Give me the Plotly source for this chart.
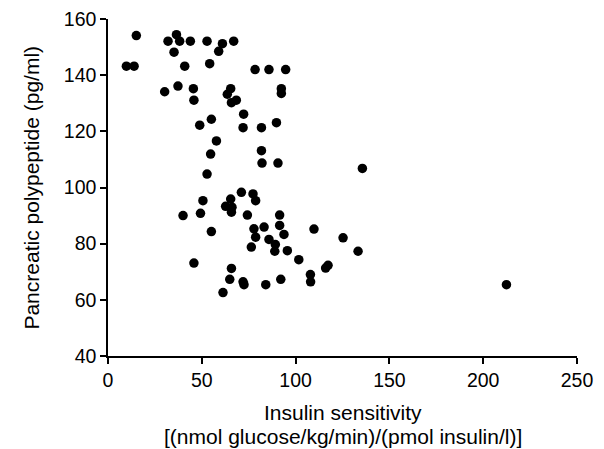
import plotly.graph_objects as go

# Insulin sensitivity [(nmol glucose/kg/min)/(pmol insulin/l)]
insulin_sensitivity = [
    15.1, 9.8, 13.9, 32.0, 36.5, 38.2, 43.9, 35.2, 40.9, 52.8, 61.0, 59.0, 67.0, 54.2,
    78.4, 85.8, 94.7, 30.2, 37.3, 45.5, 45.8, 65.4, 63.6, 65.8, 68.4, 92.4, 92.4, 72.3,
    48.9, 55.1, 72.0, 81.8, 89.8,
    57.8, 54.7, 52.8, 81.8, 82.1, 90.6, 71.1, 77.3, 78.7, 50.6, 65.4, 62.7, 66.1, 65.8,
    40.0, 49.3, 74.3, 91.5, 91.5, 77.8, 83.2, 55.1, 78.7, 93.8, 85.8, 89.2, 76.4, 95.6,
    88.9, 101.7, 45.8, 65.8, 64.9, 72.0, 72.5, 84.1, 92.1, 61.3,
    135.6, 109.8, 125.3, 133.3, 117.3, 116.0, 107.9, 108.0, 212.4,
]

# Pancreatic polypeptide (pg/ml)
pancreatic_polypeptide = [
    154.1, 143.2, 143.2, 152.1, 154.4, 152.1, 152.1, 148.2, 143.2, 152.1, 151.2, 148.5, 152.1, 144.1,
    142.0, 142.0, 142.0, 134.1, 136.1, 135.2, 131.1, 135.2, 133.2, 130.2, 131.1, 135.2, 133.5, 126.1,
    122.2, 124.3, 121.3, 121.3, 123.1,
    116.6, 111.9, 104.8, 113.1, 108.7, 108.7, 98.3, 97.7, 95.3, 95.3, 95.9, 93.3, 93.0, 91.2,
    90.0, 90.8, 90.2, 90.2, 86.5, 85.3, 85.9, 84.3, 82.3, 83.3, 81.5, 79.7, 78.8, 77.5,
    77.3, 74.3, 73.1, 71.2, 67.3, 66.4, 65.4, 65.4, 67.3, 62.6,
    106.8, 85.2, 82.1, 77.3, 72.3, 71.3, 69.0, 66.4, 65.4,
]

x_ticks = [0, 50, 100, 150, 200, 250]
y_ticks = [40, 60, 80, 100, 120, 140, 160]

x_title_lines = ["Insulin sensitivity", "[(nmol glucose/kg/min)/(pmol insulin/l)]"]
y_title = "Pancreatic polypeptide (pg/ml)"

FONT = "Liberation Sans, Arial, Helvetica, sans-serif"
TICK_SIZE = 19.5
TITLE_SIZE = 21

fig = go.Figure(
    go.Scatter(
        x=insulin_sensitivity,
        y=pancreatic_polypeptide,
        mode="markers",
        marker=dict(color="black", size=9.5, line=dict(width=0)),
        showlegend=False,
        hoverinfo="x+y",
    )
)

axis_common = dict(
    showline=True,
    linecolor="black",
    linewidth=1.5,
    ticks="outside",
    ticklen=6,
    tickwidth=1.5,
    tickcolor="black",
    showgrid=False,
    zeroline=False,
    tickfont=dict(family=FONT, size=TICK_SIZE, color="black"),
)

fig.update_xaxes(range=[0, 250], tickvals=x_ticks, **axis_common)
fig.update_yaxes(range=[40, 160], tickvals=y_ticks, **axis_common)

# axis titles placed as annotations for precise positioning
fig.add_annotation(
    text=x_title_lines[0], xref="paper", yref="paper", x=0.5, y=-0.169,
    xanchor="center", yanchor="middle", showarrow=False,
    font=dict(family=FONT, size=TITLE_SIZE, color="black"),
)
fig.add_annotation(
    text=x_title_lines[1], xref="paper", yref="paper", x=0.5, y=-0.240,
    xanchor="center", yanchor="middle", showarrow=False,
    font=dict(family=FONT, size=TITLE_SIZE, color="black"),
)
fig.add_annotation(
    text=y_title, xref="paper", yref="paper", x=-0.164, y=0.5,
    xanchor="center", yanchor="middle", textangle=-90, showarrow=False,
    font=dict(family=FONT, size=TITLE_SIZE, color="black"),
)

fig.update_layout(
    width=604,
    height=449,
    margin=dict(l=108, r=27, t=19, b=93, autoexpand=False),
    plot_bgcolor="white",
    paper_bgcolor="white",
    font=dict(family=FONT, size=TICK_SIZE, color="black"),
)

# remove the default 8px page margin so the figure fills the 604x449 window
fig.write_html(
    "out.html",
    config={"displayModeBar": False},
    post_script="document.body.style.margin='0';document.body.style.overflow='hidden';",
)
